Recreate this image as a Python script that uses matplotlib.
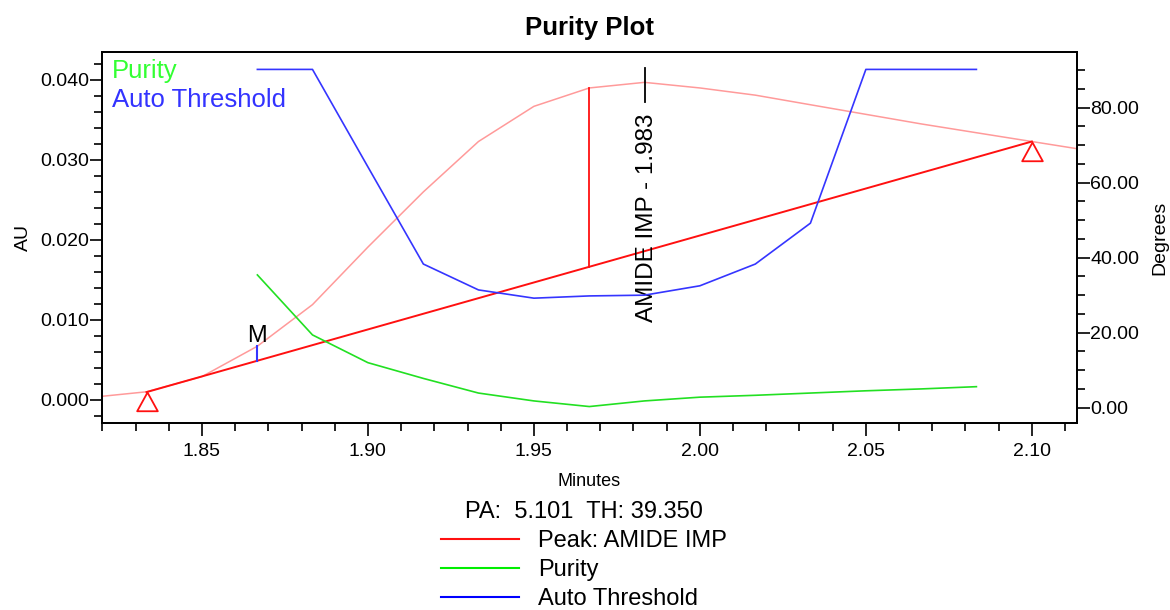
import matplotlib
matplotlib.use('Agg')
from matplotlib import pyplot as plt
from matplotlib.path import Path
from matplotlib.lines import Line2D
import numpy as np

plt.rcParams['font.family'] = ['Liberation Sans', 'DejaVu Sans']

# chromatogram of the peak (AU)
peak_t = [1.8167, 1.8333, 1.85, 1.8667, 1.8833, 1.90, 1.9167, 1.9333, 1.95, 1.9667,
          1.9833, 2.00, 2.0167, 2.0333, 2.05, 2.0667, 2.0833, 2.10, 2.1167]
peak_au = [0.0003, 0.0010, 0.0029, 0.0067, 0.0119, 0.0191, 0.0260, 0.0323, 0.0367, 0.0390,
           0.0397, 0.0390, 0.0381, 0.0369, 0.0357, 0.0345, 0.0334, 0.0323, 0.0312]

# baseline between start / end markers
base_t = [1.8333, 2.10]
base_au = [0.00096, 0.0323]

# apex drop line
apex_t = 1.9667
apex_au = [0.01664, 0.0390]

# M marker
m_t = 1.8667
m_au = [0.0049, 0.0067]

# purity / threshold (degrees)
pur_t = [1.8667, 1.8833, 1.90, 1.9167, 1.9333, 1.95, 1.9667, 1.9833, 2.00, 2.0167,
         2.0333, 2.05, 2.0667, 2.0833]
pur_deg = [35.4, 19.4, 12.0, 7.8, 3.9, 1.8, 0.3, 1.8, 2.8, 3.3, 3.9, 4.5, 5.0, 5.6]
thr_deg = [90.2, 90.2, 64.2, 38.3, 31.4, 29.2, 29.8, 30.0, 32.5, 38.3, 49.2, 90.2, 90.2, 90.2]

peak_name = 'AMIDE IMP'
peak_rt = 1.983
pa_val = 5.101
th_val = 39.350

fig = plt.figure(figsize=(11.7, 6.1), dpi=100)
ax = fig.add_axes([0.0872, 0.3066, 0.8333, 0.6082])
ax2 = ax.twinx()

pink = '#ff9a9a'
red = '#ff1010'
green = '#22e022'
blue = '#3535ff'

ax.plot(peak_t, peak_au, color=pink, lw=1.1, zorder=2)
ax.plot(base_t, base_au, color=red, lw=1.4, zorder=3)
ax.plot([apex_t, apex_t], apex_au, color=red, lw=1.3, zorder=3)
ax.plot([m_t, m_t], m_au, color=blue, lw=1.5, zorder=3)
ax.text(m_t, 0.00725, 'M', ha='center', va='baseline', fontsize=17)

# triangle marker with apex at the data point
tri = Path([(0, 0), (-0.55, -1), (0.55, -1), (0, 0)],
           [Path.MOVETO, Path.LINETO, Path.LINETO, Path.CLOSEPOLY])
ax.plot(base_t, base_au, ls='none', marker=tri, ms=27, mfc='none', mec=red, mew=1.3,
        zorder=4, clip_on=False)

ax.text(peak_rt + 0.001, 0.00975, '%s - %.3f' % (peak_name, peak_rt), rotation=90,
        ha='center', va='bottom', fontsize=17.5)
ax.plot([peak_rt + 0.0004] * 2, [0.0372, 0.0415], color='black', lw=1.3)

ax2.plot(pur_t, pur_deg, color=green, lw=1.2)
ax2.plot(pur_t, thr_deg, color=blue, lw=1.2)

ax.set_xlim(1.8199, 2.1136)
ax.set_ylim(-0.0029, 0.0435)
ax2.set_ylim(-4.08, 94.85)

ax.set_xticks(np.arange(1.85, 2.101, 0.05))
ax.set_xticks(np.arange(1.82, 2.111, 0.01), minor=True)
ax.set_xticklabels(['%.2f' % v for v in np.arange(1.85, 2.101, 0.05)])
ax.set_yticks(np.arange(0, 0.0401, 0.01))
ax.set_yticks(np.arange(-0.002, 0.0431, 0.002), minor=True)
ax.set_yticklabels(['%.3f' % v for v in np.arange(0, 0.0401, 0.01)])
ax2.set_yticks(np.arange(0, 81, 20))
ax2.set_yticks(np.arange(0, 91, 5), minor=True)
ax2.set_yticklabels(['%.2f' % v for v in np.arange(0, 81, 20)])

ax.tick_params(axis='y', which='major', length=9, width=1.2, labelsize=14, pad=0.5)
ax.tick_params(axis='both', which='minor', length=5.5, width=1.2)
ax.tick_params(axis='x', which='major', length=9, width=1.2, labelsize=14, pad=5.5)
ax2.tick_params(axis='y', which='major', length=9, width=1.2, labelsize=14, pad=0.5)
ax2.tick_params(axis='y', which='minor', length=5.5, width=1.2)
for a in (ax, ax2):
    for s in a.spines.values():
        s.set_linewidth(1.3)

ax.set_xlabel('Minutes', fontsize=13, labelpad=9)
ax.set_ylabel('AU', fontsize=14, labelpad=6)
ax2.set_ylabel('Degrees', fontsize=14, labelpad=9)
ax.set_title('Purity Plot', fontsize=18.5, fontweight='bold', pad=12)

ax.text(0.0103, 0.949, 'Purity', color='#33ff33', fontsize=18.5, va='center',
        transform=ax.transAxes)
ax.text(0.0103, 0.871, 'Auto Threshold', color='#3333ff', fontsize=18.5, va='center',
        transform=ax.transAxes)

handles = [Line2D([], [], color=red, lw=1.5),
           Line2D([], [], color='#00ee00', lw=1.5),
           Line2D([], [], color='#0000ff', lw=1.5)]
leg = fig.legend(handles, ['Peak: %s' % peak_name, 'Purity', 'Auto Threshold'],
                 loc='upper center', bbox_to_anchor=(0.499, 0.198), frameon=False,
                 fontsize=17, handlelength=3.3, handletextpad=0.8, labelspacing=0.3,
                 borderpad=0, title='PA:  %.3f  TH: %.3f' % (pa_val, th_val),
                 title_fontsize=17)

fig.savefig('out.png', dpi=100)
